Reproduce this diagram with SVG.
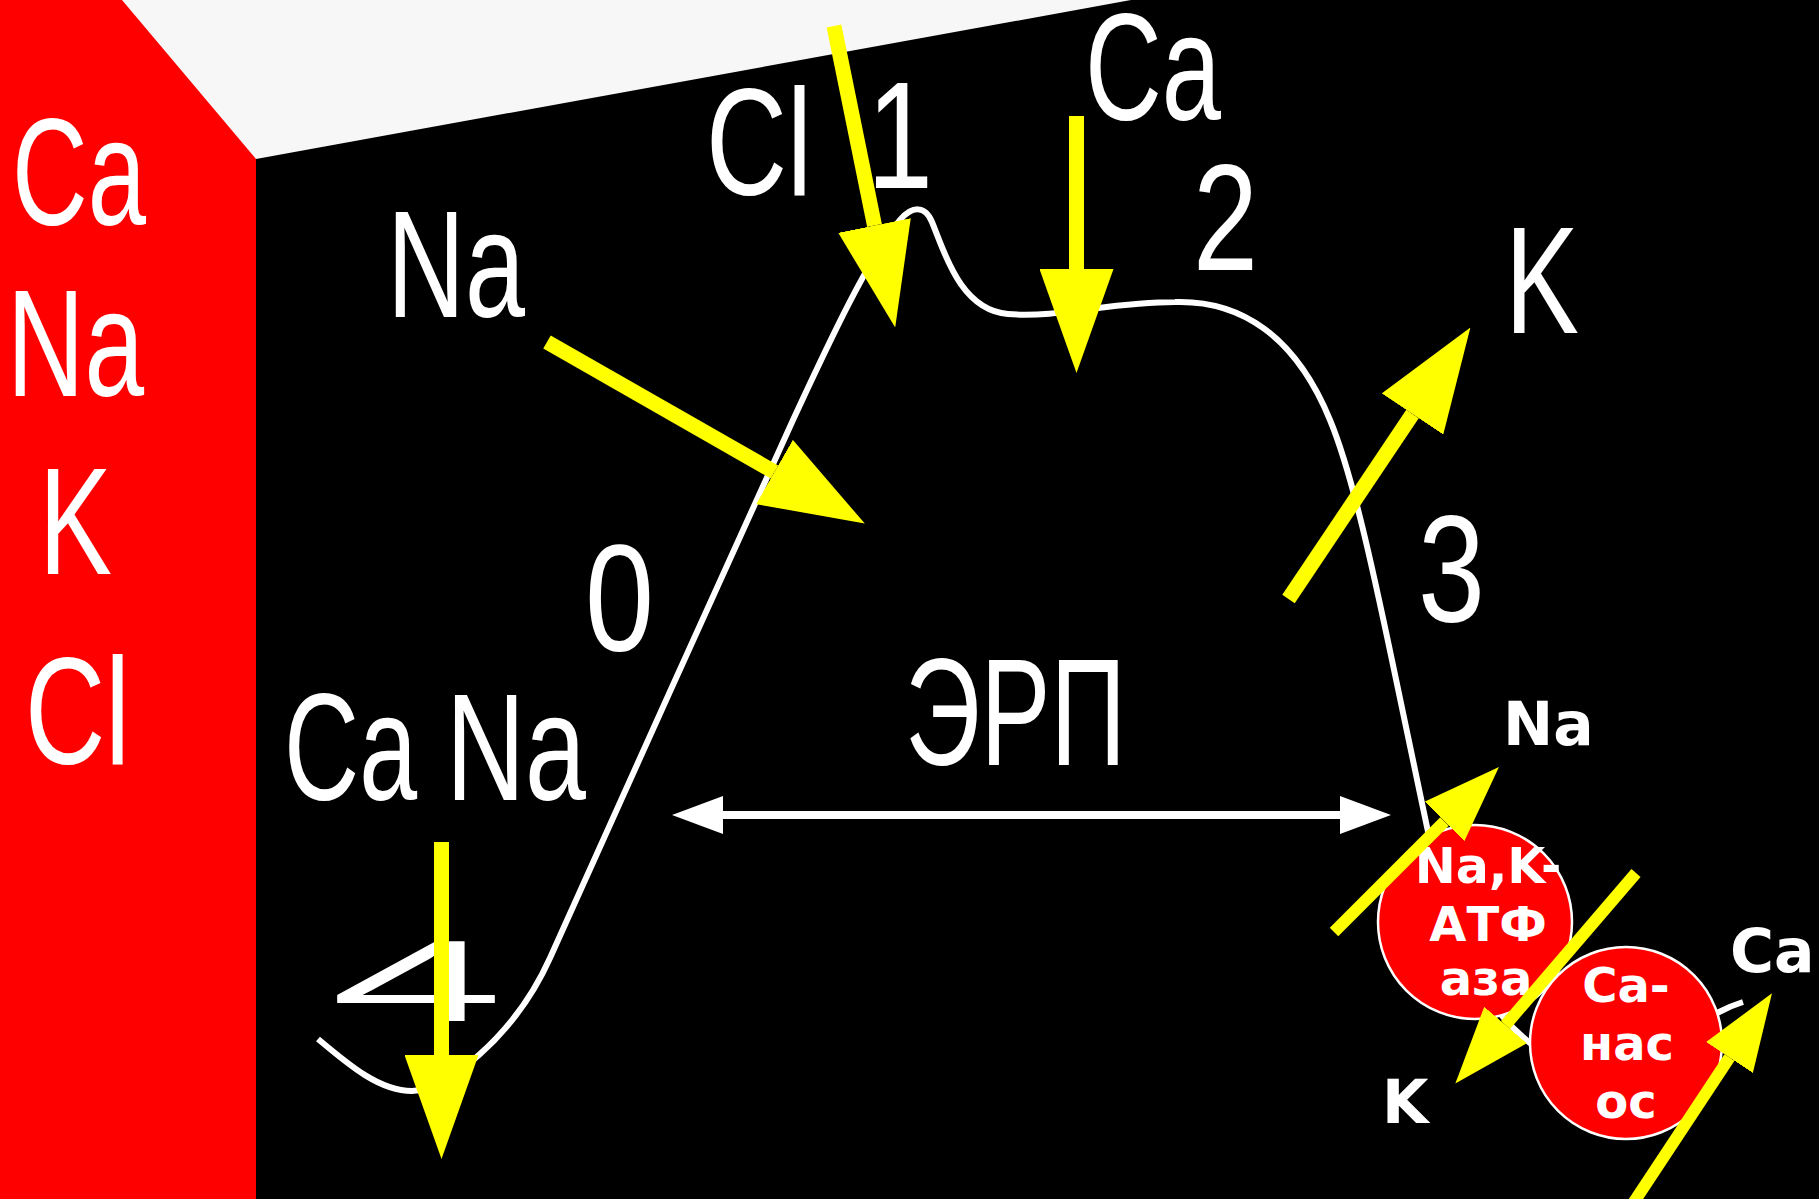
<svg xmlns="http://www.w3.org/2000/svg" width="1819" height="1199" viewBox="0 0 1819 1199">
<style>
.big{font-family:"Liberation Sans",Arial,sans-serif;font-size:152px;fill:#ffffff}
.bold{font-family:"DejaVu Sans",Verdana,sans-serif;font-weight:bold;fill:#ffffff}
.curve{fill:none;stroke:#ffffff;stroke-width:6}
.ya{stroke:#ffff00;stroke-width:15;fill:none;marker-end:url(#yh)}
.ys{stroke:#ffff00;stroke-width:12;fill:none;marker-end:url(#ysm)}
.pump{fill:#ff0000;stroke:#ffffff;stroke-width:2.5}
</style>
<defs>
<marker id="yh" viewBox="0 -37 104 74" markerWidth="104" markerHeight="74" refX="0" refY="0" markerUnits="userSpaceOnUse" orient="auto">
<path d="M0,-37 L104,0 L0,37 Z" fill="#ffff00"/>
</marker>
<marker id="ysm" viewBox="0 -28 77 56" markerWidth="77" markerHeight="56" refX="0" refY="0" markerUnits="userSpaceOnUse" orient="auto">
<path d="M0,-28 L77,0 L0,28 Z" fill="#ffff00"/>
</marker>
</defs>
<g id="background">
<rect x="0" y="0" width="1819" height="1199" fill="#f7f7f7"/>
<polygon points="0,0 122,0 256,159 256,1199 0,1199" fill="#ff0000"/>
<polygon points="256,159 1131,0 1819,0 1819,1199 256,1199" fill="#000000"/>
</g>
<g id="ion-list">
<text class="big" x="12" y="225" textLength="134" lengthAdjust="spacingAndGlyphs">Ca</text>
<text class="big" x="7" y="396" textLength="137" lengthAdjust="spacingAndGlyphs">Na</text>
<text class="big" x="39" y="574" textLength="73" lengthAdjust="spacingAndGlyphs">K</text>
<text class="big" x="25" y="764" textLength="105" lengthAdjust="spacingAndGlyphs">Cl</text>
</g>
<g id="connectors">
<path id="action-potential" class="curve" d="M318,1039 C350,1066 380,1091 412,1091 C444,1091 514,1038 550,958 C595,858 747,520 793,420 C830,340 870,255 900,220 C912,206 925,205 932,222 C944,251 960,310 1008,314 C1060,318 1110,302 1175,302 C1240,300 1295,335 1330,420 C1352,473 1372,565 1393,665 L1427,827 C1448,927 1475,1000 1530,1043 C1580,1080 1670,1040 1717,1013 Q1730,1006 1743,1002"/>
<g id="erp-arrow" fill="#ffffff">
<line x1="720" y1="815" x2="1343" y2="815" stroke="#ffffff" stroke-width="8"/>
<polygon points="672,815 723,796 723,834"/>
<polygon points="1391,815 1340,796 1340,834"/>
</g>
</g>
<g id="labels">
<text class="big" x="387" y="317" textLength="138" lengthAdjust="spacingAndGlyphs">Na</text>
<text class="big" x="706" y="195" textLength="106" lengthAdjust="spacingAndGlyphs">Cl</text>
<text class="big" x="867" y="188" textLength="66" lengthAdjust="spacingAndGlyphs">1</text>
<text class="big" x="1085" y="120" textLength="136" lengthAdjust="spacingAndGlyphs">Ca</text>
<text class="big" x="1193" y="270" textLength="65" lengthAdjust="spacingAndGlyphs">2</text>
<text class="big" x="1505" y="333" textLength="74" lengthAdjust="spacingAndGlyphs">K</text>
<text class="big" x="1418" y="622" textLength="67" lengthAdjust="spacingAndGlyphs">3</text>
<text class="big" x="585" y="651" textLength="69" lengthAdjust="spacingAndGlyphs">0</text>
<text class="big" x="905" y="765" textLength="221" lengthAdjust="spacingAndGlyphs">ЭРП</text>
<text class="big" x="284" y="800" textLength="133" lengthAdjust="spacingAndGlyphs">Ca</text>
<text class="big" x="446" y="800" textLength="140" lengthAdjust="spacingAndGlyphs">Na</text>
<text class="big" style="font-size:116px" x="330" y="1021" textLength="174" lengthAdjust="spacingAndGlyphs">4</text>
</g>
<g id="na-k-atpase">
<circle class="pump" cx="1475" cy="922" r="97"/>
<text class="bold" font-size="49" text-anchor="middle" x="1488" y="883">Na,K-</text>
<text class="bold" font-size="48" text-anchor="middle" x="1488" y="941">АТФ</text>
<text class="bold" font-size="48" text-anchor="middle" x="1486" y="995">аза</text>
</g>
<g id="ca-pump">
<circle class="pump" cx="1626" cy="1043" r="96"/>
<text class="bold" font-size="48" text-anchor="middle" x="1626" y="1002">Ca-</text>
<text class="bold" font-size="48" text-anchor="middle" x="1627" y="1060">нас</text>
<text class="bold" font-size="48" text-anchor="middle" x="1626" y="1118">ос</text>
</g>
<g id="pump-labels">
<text class="bold" font-size="60" x="1503" y="745">Na</text>
<text class="bold" font-size="60" x="1382" y="1123">K</text>
<text class="bold" font-size="60" x="1730" y="972">Ca</text>
</g>
<g id="ion-arrows">
<line class="ya" x1="834" y1="26" x2="874.5" y2="225.5"/>
<line class="ya" x1="1076.5" y1="116" x2="1076.5" y2="269"/>
<line class="ya" x1="547" y1="342" x2="774.5" y2="472"/>
<line class="ya" x1="1288.5" y1="599" x2="1412.5" y2="414"/>
<line class="ya" x1="441.5" y1="842" x2="441.5" y2="1055"/>
<line class="ys" x1="1334" y1="932" x2="1444.5" y2="821.5"/>
<line class="ys" x1="1636" y1="873" x2="1505.5" y2="1025"/>
<line class="ys" x1="1632" y1="1205" x2="1729.5" y2="1057.5"/>
</g>
</svg>
